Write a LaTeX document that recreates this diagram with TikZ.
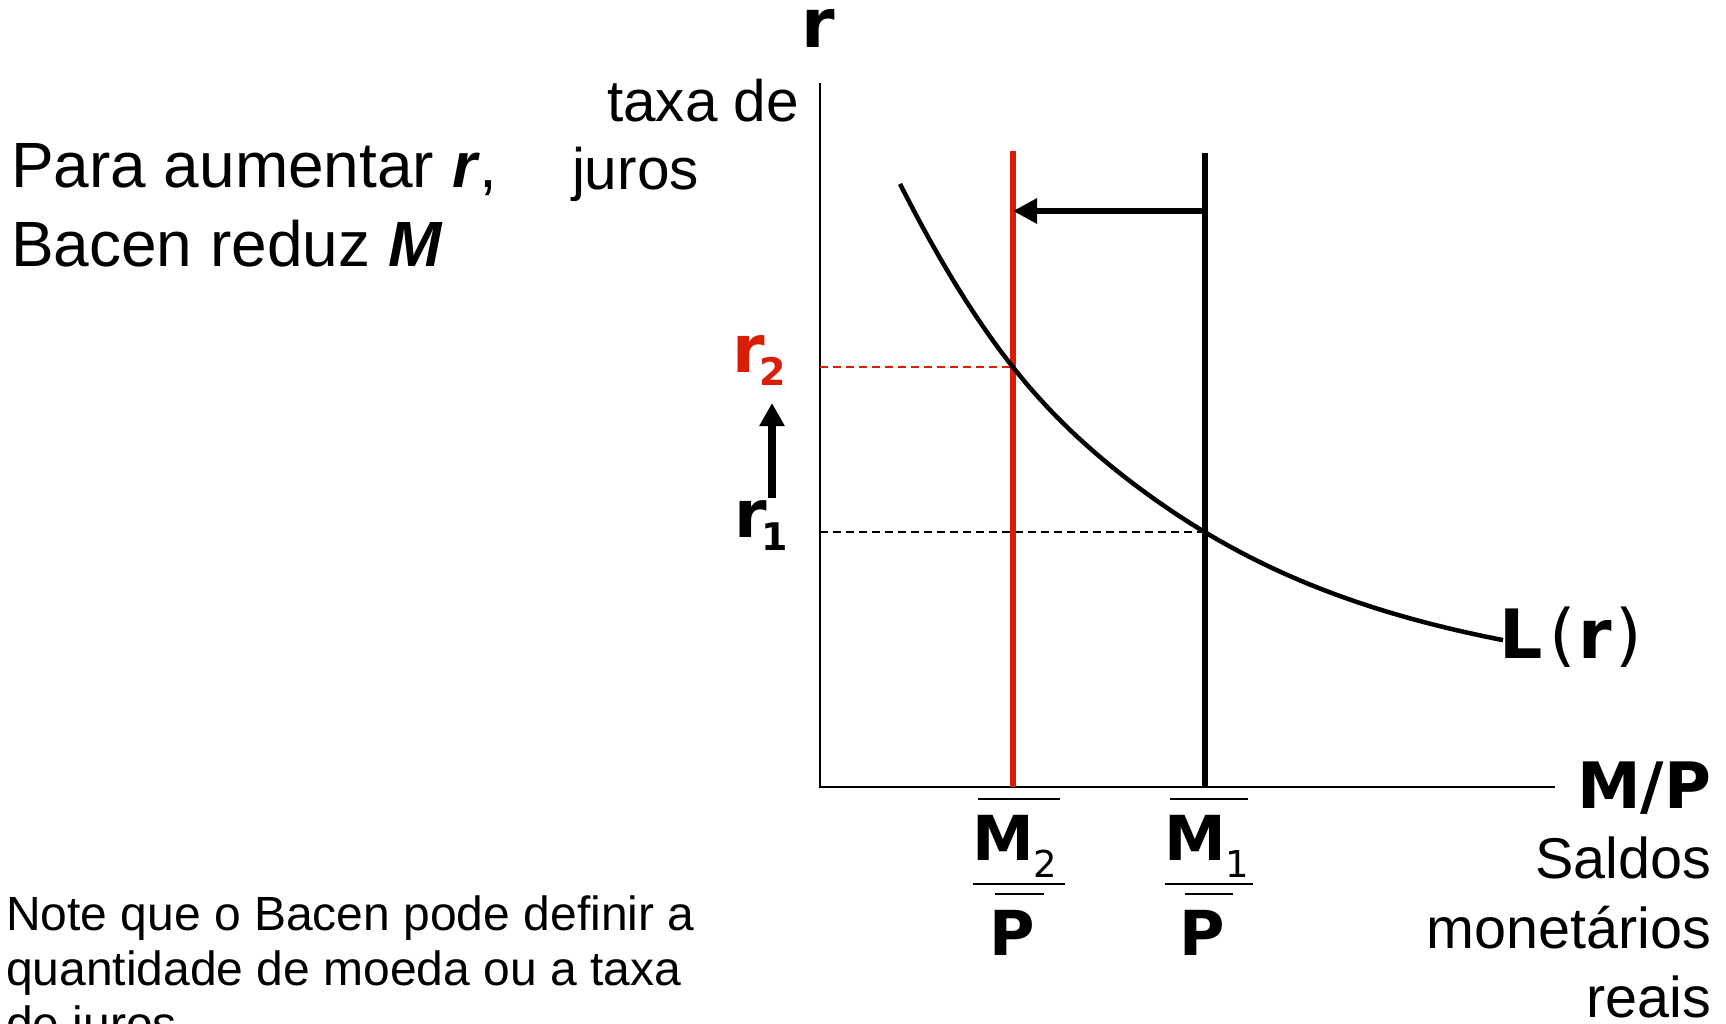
\documentclass[tikz,border=0pt]{standalone}
\usepackage{fontspec}
\setmainfont{Liberation Sans}
\newfontfamily\vfont{DejaVu Sans}
\usetikzlibrary{arrows.meta}
\definecolor{myred}{RGB}{218,30,5}
\begin{document}
\begin{tikzpicture}[x=1pt,y=-1pt,
  lbl/.style={inner sep=0pt,outer sep=0pt},
  big/.style={font=\vfont\bfseries\fontsize{#1}{#1}\selectfont},
  reg/.style={font=\vfont\fontsize{#1}{#1}\selectfont},
  arial/.style={font=\fontsize{#1}{#1}\selectfont},
  thinbar/.style={line width=2.5pt},
  dashline/.style={line width=1.5pt,dash pattern=on 8pt off 5pt},
  mline/.style={line width=5.5pt},
  shiftarrow/.style={-{Triangle[length=24pt,width=24pt]}}]
\useasboundingbox (0,0) rectangle (1726,1024);
\fill[white] (0,0) rectangle (1726,1024);

% axes
\coordinate (O) at (820,787);
\coordinate (ytop) at (820,83);
\coordinate (xend) at (1555,787);
\draw[line width=2pt] (ytop) -- (O) -- (xend);

% key coordinates
\coordinate (m2top) at (1013,151); \coordinate (m2bot) at (1013,787);
\coordinate (m1top) at (1205,153); \coordinate (m1bot) at (1205,787);
\coordinate (r2y) at (820,367); \coordinate (e2) at (1013,367);
\coordinate (r1y) at (820,532); \coordinate (e1) at (1205,532);

% dashed guides
\draw[myred,dashline] (r2y) -- (e2);
\draw[black,dashline] (r1y) -- (e1);

% money supply lines
\draw[myred,mline] (m2top) -- (m2bot);
\draw[black,mline] (m1top) -- (m1bot);

% money demand curve
\draw[line width=4.5pt] plot[domain=900:1503,samples=120,smooth]
  (\x,{691.1-509.1*exp(-0.003814*(\x-900))+7*exp(-((\x-1013)/100)^2)});

% shift arrow
\coordinate (arrS) at (1205,211);
\coordinate (arrE) at (1013,211);
\draw[line width=6.5pt,shiftarrow] (arrS) -- (arrE);

% up arrow r1 -> r2
\coordinate (upS) at (772,498);
\coordinate (upE) at (772,403);
\draw[line width=7.5pt,-{Triangle[length=23pt,width=24pt]}] (upS) -- (upE);

% axis labels
\node[lbl,big=68,anchor=base] (rlab) at (818,48) {r};
\node[lbl,arial=58.5,anchor=base east] (taxa) at (799,122) {taxa de};
\node[lbl,arial=58.5,anchor=base west] (juros) at (572,190) {juros};

\node[lbl,big=64,anchor=base east] (mp) at (1711,808) {M/P};
\node[lbl,arial=57.5,anchor=base east] (sal1) at (1711,878) {Saldos};
\node[lbl,arial=57.5,anchor=base east] (sal2) at (1711,948) {monetários};
\node[lbl,arial=57.5,anchor=base east] (sal3) at (1711,1017) {reais};

% L(r)
\node[lbl,big=68,anchor=base west] (Lr) at (1499,658) {L\kern7pt{\mdseries(}\kern3pt r\kern3pt{\mdseries)}};

% r labels
\node[lbl,big=66,anchor=base west,text=myred] (r2a) at (732,372) {r};
\node[lbl,big=38,anchor=base west,text=myred] (r2b) at (759,385) {2};
\node[lbl,big=66,anchor=base west] (r1a) at (734,537) {r};
\node[lbl,big=38,anchor=base west] (r1b) at (761,550) {1};

% fractions
\node[lbl,big=62,anchor=base west] (M2) at (972,860) {M};
\node[lbl,reg=37,anchor=base west] (s2) at (1033,877) {2};
\node[lbl,big=62,anchor=base west] (P2) at (989,955) {P};
\draw[thinbar] (978,799) -- (1060,799);
\draw[thinbar] (973,884) -- (1065,884);
\draw[thinbar] (995,894) -- (1044,894);

\node[lbl,big=62,anchor=base west] (M1) at (1164,860) {M};
\node[lbl,reg=37,anchor=base west] (s1) at (1225,877) {1};
\node[lbl,big=62,anchor=base west] (P1) at (1179,955) {P};
\draw[thinbar] (1170,799) -- (1248,799);
\draw[thinbar] (1165,884) -- (1253,884);
\draw[thinbar] (1185,894) -- (1233,894);

% left texts
\node[lbl,arial=64,anchor=base west] (t1) at (11,188) {Para aumentar \textbf{\textit{r}},};
\node[lbl,arial=64,anchor=base west] (t2) at (11,267) {Bacen reduz \textbf{\textit{M}}};

\node[lbl,arial=48,anchor=base west] (n1) at (6,930) {Note que o Bacen pode definir a};
\node[lbl,arial=48,anchor=base west] (n2) at (6,985) {quantidade de moeda ou a taxa};
\node[lbl,arial=48,anchor=base west] (n3) at (6,1040) {de juros};
\end{tikzpicture}
\end{document}
